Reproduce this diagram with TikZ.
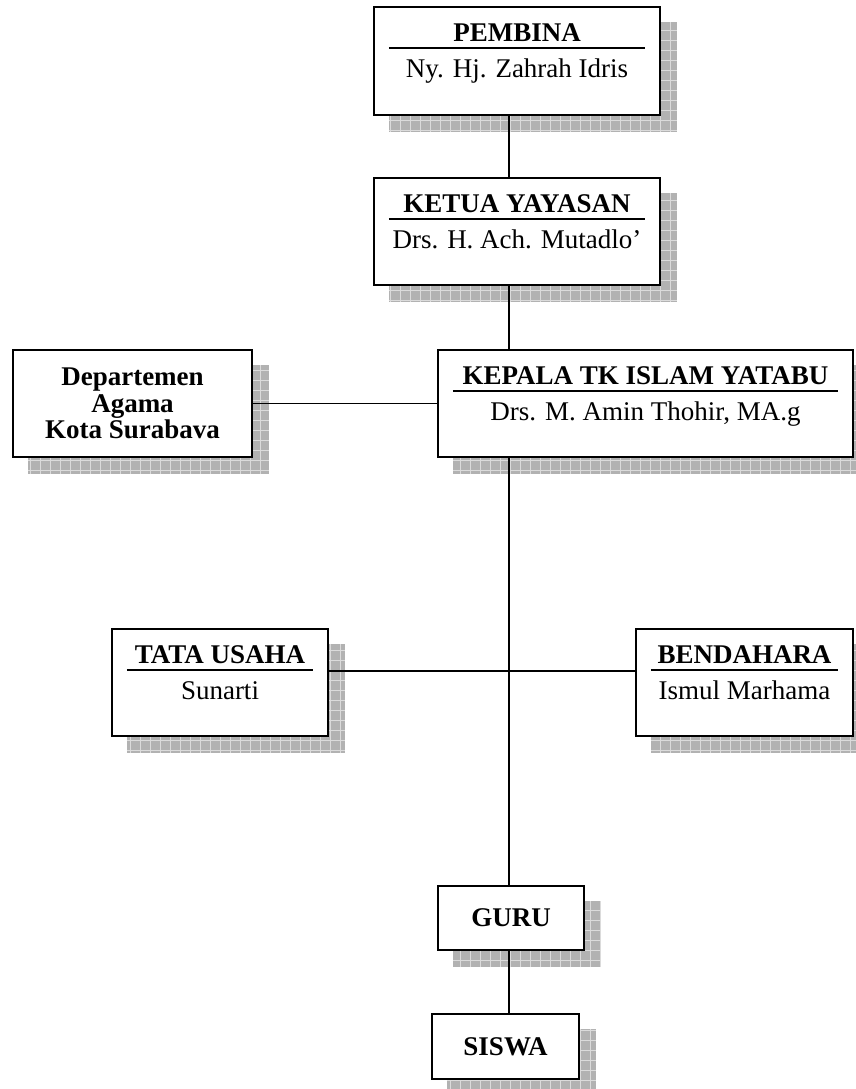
\documentclass[tikz,border=0pt]{standalone}
\usepackage{fontspec}
\setmainfont{Liberation Serif}
\usetikzlibrary{backgrounds}
\tikzset{
  box/.style={draw, line width=2.2pt, fill=white, inner sep=0pt},
  boxtitle/.style={anchor=base, inner sep=0pt, font=\fontsize{27}{27}\selectfont\bfseries},
  boxname/.style={anchor=base, inner sep=0pt, font=\fontsize{27}{27}\selectfont},
  boxbold/.style={align=center, font=\fontsize{27}{26.5}\selectfont\bfseries},
  shadowpat/.style={fill=black!30, path picture={\draw[black!14, line width=0.8pt, step=10pt]
      (path picture bounding box.south west) grid (path picture bounding box.north east);}},
  conn/.style={line width=1.8pt}
}

\begin{document}
\begin{tikzpicture}[x=1pt,y=-1pt]
      \useasboundingbox (0,0) rectangle (855,1089);
      \node [box, minimum width=286pt, minimum height=108pt] (pembina) at (517,61) {};
      \node [box, minimum width=286pt, minimum height=107pt] (ketua) at (517,231.5) {};
      \node [box, minimum width=415pt, minimum height=107pt] (kepala) at (645.5,403.5) {};
      \node [box, boxbold, minimum width=239pt, minimum height=107pt] (dep) at (132.5,403.5)
        {Departemen\\Agama\\Kota Surabava};
      \node [box, minimum width=216pt, minimum height=107pt] (tata) at (220,682.5) {};
      \node [box, minimum width=217pt, minimum height=107pt] (bend) at (744.5,682.5) {};
      \node [box, boxbold, minimum width=146pt, minimum height=64pt] (guru) at (511,918) {GURU};
      \node [box, boxbold, minimum width=147pt, minimum height=65pt] (siswa) at (505.5,1046.5) {SISWA};
      \foreach \n/\t/\s in {pembina/PEMBINA/Ny. Hj. Zahrah Idris,
          ketua/KETUA YAYASAN/Drs. H. Ach. Mutadlo’,
          kepala/KEPALA TK ISLAM YATABU/{Drs. M. Amin Thohir, MA.g},
          tata/TATA USAHA/Sunarti,
          bend/BENDAHARA/Ismul Marhama} {
        \node [boxtitle] (\n-t) at ([shift={(0,36)}]\n.north) {\t};
        \node [boxname] (\n-n) at ([shift={(0,72)}]\n.north) {\s};
        \draw [conn] ([shift={(16,42)}]\n.north west) -- ([shift={(-16,42)}]\n.north east);
      }
      \begin{scope}[on background layer]
        \foreach \n in {pembina,ketua,kepala,dep,tata,bend,guru,siswa}
          \fill [shadowpat] ([shift={(16,16)}]\n.north west) rectangle ([shift={(16,16)}]\n.south east);
      \end{scope}
      \coordinate (trunk) at (509,0);
      \coordinate (cross) at (509,671);
      \draw [conn] (pembina.south -| trunk) -- (ketua.north -| trunk);
      \draw [conn] (ketua.south -| trunk) -- (kepala.north -| trunk);
      \draw [conn] (dep.east) -- (kepala.west);
      \draw [conn] (kepala.south -| trunk) -- (guru.north -| trunk);
      \draw [conn] (tata.east |- cross) -- (bend.west |- cross);
      \draw [conn] (guru.south -| trunk) -- (siswa.north -| trunk);
    \end{tikzpicture}
\end{document}
